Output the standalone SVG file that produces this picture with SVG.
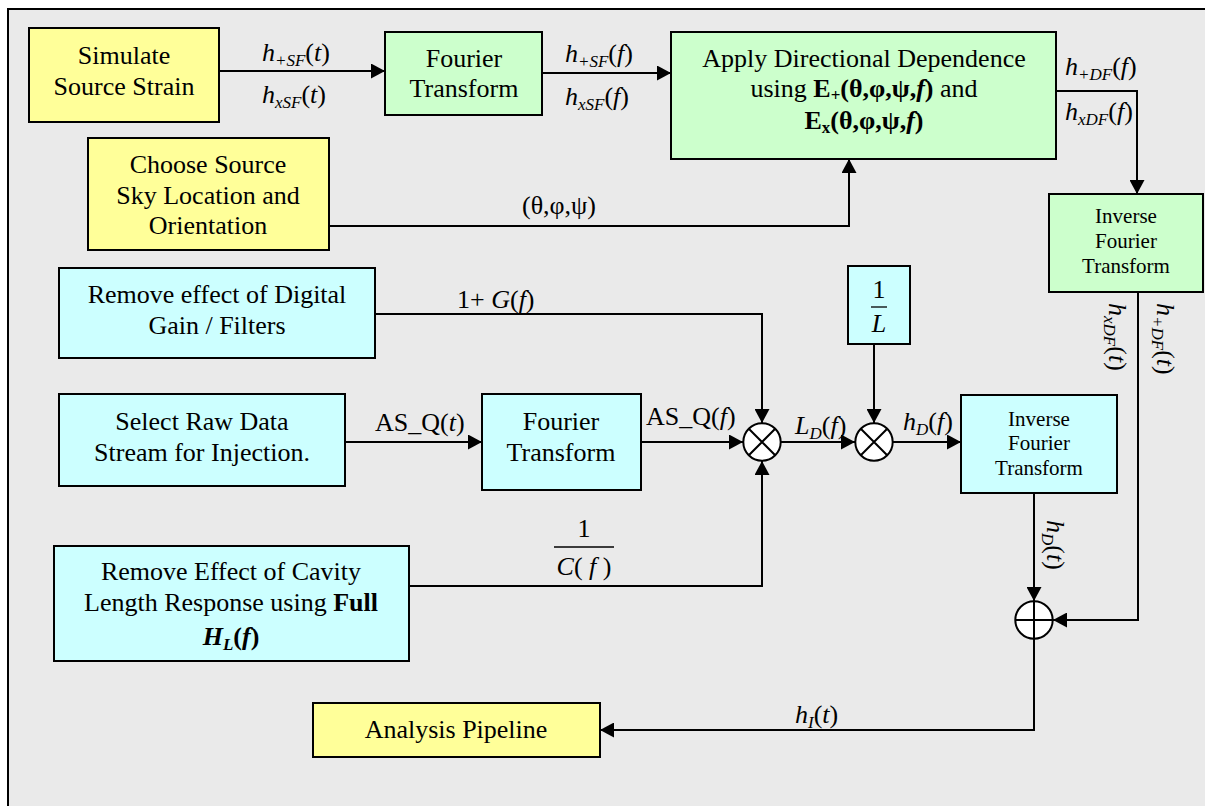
<svg xmlns="http://www.w3.org/2000/svg" width="1205" height="806" viewBox="0 0 1205 806">
<style>
.t{font-family:"Liberation Serif","Times New Roman",serif;font-size:26px;fill:#000}
.c{text-anchor:middle}
.s{font-size:21px}
.i{font-style:italic}
.n{font-style:normal}
.b{font-weight:bold}
.box{stroke:#000;stroke-width:2}
.y{fill:#ffff99}.g{fill:#ccffcc}.cy{fill:#ccffff}
.ln{fill:none;stroke:#000;stroke-width:2;marker-end:url(#ah)}
.op{fill:#fff;stroke:#000;stroke-width:2}
.x{stroke:#000;stroke-width:2}
</style>
<defs>
<marker id="ah" markerWidth="14" markerHeight="15" refX="14" refY="7.5" orient="auto" markerUnits="userSpaceOnUse"><path d="M0,0 L14,7.5 L0,15 z" fill="#000"/></marker>
</defs>
<rect x="8" y="9" width="1212" height="812" fill="#eaeaea" stroke="#000" stroke-width="2"/>

<g id="connectors">
<path class="ln" d="M219,71 H385"/>
<path class="ln" d="M542,73 H671"/>
<path class="ln" d="M329,226 H849 V159"/>
<path class="ln" d="M1056,91 H1137 V194"/>
<path class="ln" d="M375,314 H762 V423"/>
<path class="ln" d="M345,442 H482"/>
<path class="ln" d="M641,442 H743"/>
<path class="ln" d="M409,586 H762 V461"/>
<path class="ln" d="M781,442 H855"/>
<path class="ln" d="M874,344 V423"/>
<path class="ln" d="M893,442 H961"/>
<path class="ln" d="M1034,493 V601"/>
<path class="ln" d="M1138,292 V620 H1053"/>
<path class="ln" d="M1034,639 V730 H600"/>
</g>

<g id="labels">
<text class="t i" x="262" y="61">h<tspan font-size="17" dy="5">+SF</tspan><tspan class="n" dy="-5">(</tspan>t<tspan class="n">)</tspan></text>
<text class="t i" x="262" y="103">h<tspan font-size="17" dy="5">xSF</tspan><tspan class="n" dy="-5">(</tspan>t<tspan class="n">)</tspan></text>
<text class="t i" x="565" y="62">h<tspan font-size="17" dy="5">+SF</tspan><tspan class="n" dy="-5">(</tspan>f<tspan class="n">)</tspan></text>
<text class="t i" x="565" y="105">h<tspan font-size="17" dy="5">xSF</tspan><tspan class="n" dy="-5">(</tspan>f<tspan class="n">)</tspan></text>
<text class="t i" x="1065" y="75">h<tspan font-size="17" dy="5">+DF</tspan><tspan class="n" dy="-5">(</tspan>f<tspan class="n">)</tspan></text>
<text class="t i" x="1065" y="120">h<tspan font-size="17" dy="5">xDF</tspan><tspan class="n" dy="-5">(</tspan>f<tspan class="n">)</tspan></text>
<text class="t c" x="559" y="214">(θ,φ,ψ)</text>
<text class="t" x="457" y="308">1+ <tspan class="i">G</tspan>(<tspan class="i">f</tspan>)</text>
<text class="t" x="375" y="431">AS_Q(<tspan class="i">t</tspan>)</text>
<text class="t" x="646" y="425">AS_Q(<tspan class="i">f</tspan>)</text>
<text class="t i" x="795" y="434">L<tspan font-size="17" dy="5">D</tspan><tspan class="n" dy="-5">(</tspan>f<tspan class="n">)</tspan></text>
<text class="t i" x="903" y="430">h<tspan font-size="17" dy="5">D</tspan><tspan class="n" dy="-5">(</tspan>f<tspan class="n">)</tspan></text>
<text class="t c" x="584" y="537">1</text>
<line x1="554" y1="547" x2="614" y2="547" stroke="#000" stroke-width="1.3"/>
<text class="t c" x="584" y="575"><tspan class="i">C</tspan>( <tspan class="i">f</tspan> )</text>
<text class="t i" transform="translate(1109,303) rotate(90)">h<tspan font-size="17" dy="5">xDF</tspan><tspan class="n" dy="-5">(</tspan>t<tspan class="n">)</tspan></text>
<text class="t i" transform="translate(1157,303) rotate(90)">h<tspan font-size="17" dy="5">+DF</tspan><tspan class="n" dy="-5">(</tspan>t<tspan class="n">)</tspan></text>
<text class="t i" transform="translate(1047,520) rotate(90)">h<tspan font-size="17" dy="5">D</tspan><tspan class="n" dy="-5">(</tspan>t<tspan class="n">)</tspan></text>
<text class="t i" x="795" y="723">h<tspan font-size="17" dy="5">I</tspan><tspan class="n" dy="-5">(</tspan>t<tspan class="n">)</tspan></text>
</g>

<g id="simulate">
<rect class="box y" x="29" y="28" width="190" height="94"/>
<text class="t c" x="124" y="64">Simulate</text>
<text class="t c" x="124" y="95">Source Strain</text>
</g>

<g id="fourier1">
<rect class="box g" x="385" y="32" width="157" height="83"/>
<text class="t c" x="464" y="67">Fourier</text>
<text class="t c" x="464" y="97">Transform</text>
</g>

<g id="apply">
<rect class="box g" x="671" y="32" width="385" height="127"/>
<text class="t c" x="864" y="67">Apply Directional Dependence</text>
<text class="t c" x="864" y="97">using <tspan class="b">E<tspan font-size="17" dy="4">+</tspan><tspan dy="-4">(θ,φ,ψ,</tspan><tspan class="i">f</tspan>)</tspan> and</text>
<text class="t c b" x="864" y="129">E<tspan font-size="17" dy="4">x</tspan><tspan dy="-4">(θ,φ,ψ,</tspan><tspan class="i">f</tspan>)</text>
</g>

<g id="choose">
<rect class="box y" x="88" y="138" width="241" height="112"/>
<text class="t c" x="208" y="173">Choose Source</text>
<text class="t c" x="208" y="204">Sky Location and</text>
<text class="t c" x="208" y="234">Orientation</text>
</g>

<g id="inverse1">
<rect class="box g" x="1049" y="194" width="154" height="98"/>
<text class="t c s" x="1126" y="223">Inverse</text>
<text class="t c s" x="1126" y="248">Fourier</text>
<text class="t c s" x="1126" y="273">Transform</text>
</g>

<g id="gain">
<rect class="box cy" x="59" y="268" width="316" height="90"/>
<text class="t c" x="217" y="303">Remove effect of Digital</text>
<text class="t c" x="217" y="334">Gain / Filters</text>
</g>

<g id="invL">
<rect class="box cy" x="848" y="266" width="62" height="78"/>
<text class="t c" x="879" y="298">1</text>
<line x1="871" y1="307" x2="887" y2="307" stroke="#000" stroke-width="1.3"/>
<text class="t c i" x="879" y="332">L</text>
</g>

<g id="select">
<rect class="box cy" x="59" y="394" width="286" height="92"/>
<text class="t c" x="202" y="430">Select Raw Data</text>
<text class="t c" x="202" y="461">Stream for Injection.</text>
</g>

<g id="fourier2">
<rect class="box cy" x="482" y="394" width="159" height="96"/>
<text class="t c" x="561" y="430">Fourier</text>
<text class="t c" x="561" y="461">Transform</text>
</g>

<g id="mult1">
<circle class="op" cx="762" cy="442" r="18.7"/>
<path class="x" d="M748.8,428.8 L775.2,455.2 M775.2,428.8 L748.8,455.2"/>
</g>

<g id="mult2">
<circle class="op" cx="874" cy="442" r="18.7"/>
<path class="x" d="M860.8,428.8 L887.2,455.2 M887.2,428.8 L860.8,455.2"/>
</g>

<g id="inverse2">
<rect class="box cy" x="961" y="395" width="156" height="98"/>
<text class="t c s" x="1039" y="426">Inverse</text>
<text class="t c s" x="1039" y="450">Fourier</text>
<text class="t c s" x="1039" y="475">Transform</text>
</g>

<g id="cavity">
<rect class="box cy" x="54" y="546" width="355" height="115"/>
<text class="t c" x="231" y="580">Remove Effect of Cavity</text>
<text class="t c" x="231" y="611">Length Response using <tspan class="b">Full</tspan></text>
<text class="t c b i" x="231" y="645">H<tspan font-size="17" dy="5">L</tspan><tspan class="n" dy="-5">(</tspan>f<tspan class="n">)</tspan></text>
</g>

<g id="sum">
<circle class="op" cx="1034" cy="620" r="18.7"/>
<path class="x" d="M1015.3,620 H1052.7 M1034,601.3 V638.7"/>
</g>

<g id="analysis">
<rect class="box y" x="313" y="703" width="287" height="54"/>
<text class="t c" x="456" y="738">Analysis Pipeline</text>
</g>
</svg>
